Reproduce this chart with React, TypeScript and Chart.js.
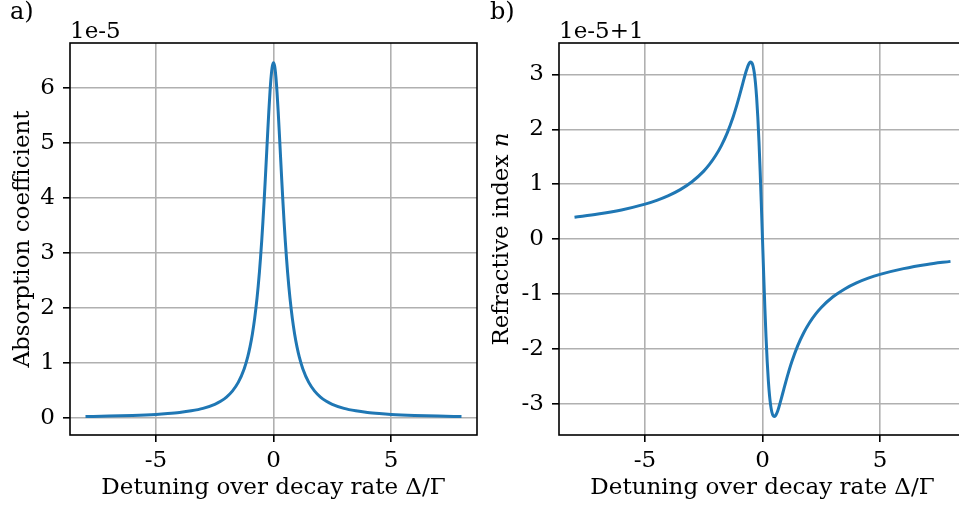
import React, { useEffect, useRef } from "react";
import { Chart, registerables } from "chart.js";

Chart.register(...registerables);

// ---- data ----
const detuning = [
  -8, -7, -6, -5, -4.5, -4, -3.5, -3, -2.5, -2.25, -2, -1.75, -1.5, -1.25, -1.1, -1, -0.9, -0.8, -0.7, -0.65,
  -0.6, -0.55, -0.5, -0.45, -0.4, -0.35, -0.3, -0.25, -0.2, -0.15, -0.1, -0.05, 0, 0.05, 0.1, 0.15, 0.2, 0.25,
  0.3, 0.35, 0.4, 0.45, 0.5, 0.55, 0.6, 0.65, 0.7, 0.8, 0.9, 1, 1.1, 1.25, 1.5, 1.75, 2, 2.25, 2.5, 3, 3.5, 4,
  4.5, 5, 6, 7, 8,
];
const absorption = [
  0.025, 0.033, 0.045, 0.064, 0.079, 0.099, 0.129, 0.174, 0.248, 0.304, 0.379, 0.487, 0.645, 0.89, 1.104, 1.29,
  1.521, 1.812, 2.179, 2.398, 2.643, 2.919, 3.225, 3.564, 3.933, 4.329, 4.743, 5.16, 5.56, 5.917, 6.202, 6.386,
  6.45, 6.386, 6.202, 5.917, 5.56, 5.16, 4.743, 4.329, 3.933, 3.564, 3.225, 2.919, 2.643, 2.398, 2.179, 1.812,
  1.521, 1.29, 1.104, 0.89, 0.645, 0.487, 0.379, 0.304, 0.248, 0.174, 0.129, 0.099, 0.079, 0.064, 0.045, 0.033,
  0.025,
];
const refraction = [
  0.402, 0.458, 0.534, 0.639, 0.708, 0.794, 0.903, 1.046, 1.24, 1.366, 1.518, 1.704, 1.935, 2.224, 2.43, 2.58,
  2.738, 2.899, 3.051, 3.117, 3.172, 3.21, 3.225, 3.207, 3.146, 3.03, 2.846, 2.58, 2.224, 1.775, 1.24, 0.639, 0,
  -0.639, -1.24, -1.775, -2.224, -2.58, -2.846, -3.03, -3.146, -3.207, -3.225, -3.21, -3.172, -3.117, -3.051,
  -2.899, -2.738, -2.58, -2.43, -2.224, -1.935, -1.704, -1.518, -1.366, -1.24, -1.046, -0.903, -0.794, -0.708,
  -0.639, -0.534, -0.458, -0.402,
];
const xTicks = [-5, 0, 5];
const absTicks = [0, 1, 2, 3, 4, 5, 6];
const refTicks = [-3, -2, -1, 0, 1, 2, 3];
const panelLabels = ["a)", "b)"];
const offsetTexts = ["1e-5", "1e-5+1"];
const xTitle = "Detuning over decay rate Δ/Γ";
const yTitleA = "Absorption coefficient";
const yTitleB = ["Refractive index ", "n"];

const FONT = "'DejaVu Serif', serif";
const FS = 23;
const LINE = "#1f77b4";
const GRID = "#b0b0b0";

type PanelProps = {
  left: number;
  width: number;
  yAxisWidth: number;
  padRight: number;
  values: number[];
  yTicks: number[];
  yMin: number;
  yMax: number;
  label: string;
  offsetText: string;
  yTitle?: string;
  yTitleParts?: string[];
};

function Panel(p: PanelProps) {
  const ref = useRef<HTMLCanvasElement | null>(null);
  useEffect(() => {
    const canvas = ref.current!;
    const fmt = (v: number) => (v < 0 ? "-" + Math.abs(v) : String(v));
    const boxPlugin = {
      id: "box",
      afterDraw(chart: any) {
        const { ctx, chartArea: a } = chart;
        ctx.save();
        ctx.strokeStyle = "#000";
        ctx.lineWidth = 1.6;
        ctx.strokeRect(a.left, a.top, a.right - a.left, a.bottom - a.top);
        ctx.fillStyle = "#000";
        ctx.font = `${FS}px ${FONT}`;
        ctx.textAlign = "left";
        ctx.textBaseline = "alphabetic";
        ctx.fillText(p.offsetText, a.left, a.top - 5);
        ctx.font = `${FS + 1}px ${FONT}`;
        ctx.fillText(p.label, 10, 19);
        if (p.yTitleParts) {
          ctx.translate(22, (a.top + a.bottom) / 2);
          ctx.rotate(-Math.PI / 2);
          ctx.textBaseline = "middle";
          const f1 = `${FS}px ${FONT}`;
          const f2 = `italic ${FS}px ${FONT}`;
          ctx.font = f1;
          const w1 = ctx.measureText(p.yTitleParts[0]).width;
          ctx.font = f2;
          const w2 = ctx.measureText(p.yTitleParts[1]).width;
          const start = -(w1 + w2) / 2;
          ctx.font = f1;
          ctx.fillText(p.yTitleParts[0], start, 0);
          ctx.font = f2;
          ctx.fillText(p.yTitleParts[1], start + w1, 0);
        }
        ctx.restore();
      },
    };
    const chart = new Chart(canvas, {
      type: "line",
      data: {
        datasets: [
          {
            data: detuning.map((x, i) => ({ x, y: p.values[i] })),
            borderColor: LINE,
            borderWidth: 3,
            pointRadius: 0,
            fill: false,
            cubicInterpolationMode: "monotone",
          },
        ],
      },
      options: {
        responsive: false,
        animation: false,
        devicePixelRatio: 1,
        layout: { padding: { left: 0, top: 43, right: p.padRight, bottom: 0 } },
        plugins: { legend: { display: false }, tooltip: { enabled: false } },
        scales: {
          x: {
            type: "linear",
            min: -8.66,
            max: 8.66,
            afterBuildTicks: (s: any) => {
              s.ticks = xTicks.map((v) => ({ value: v }));
            },
            afterFit: (s: any) => {
              s.height = 73;
            },
            grid: { color: GRID, lineWidth: 1.6, tickColor: "#000", tickWidth: 1.6, tickLength: 7 },
            border: { display: false },
            ticks: {
              color: "#000",
              font: { family: FONT, size: FS },
              padding: 5,
              maxRotation: 0,
              callback: (v: any) => fmt(Number(v)),
            },
            title: {
              display: true,
              text: xTitle,
              color: "#000",
              font: { family: FONT, size: FS },
              padding: { top: 0, bottom: 6 },
            },
          },
          y: {
            type: "linear",
            min: p.yMin,
            max: p.yMax,
            afterBuildTicks: (s: any) => {
              s.ticks = p.yTicks.map((v) => ({ value: v }));
            },
            afterFit: (s: any) => {
              s.width = p.yAxisWidth;
            },
            grid: { color: GRID, lineWidth: 1.6, tickColor: "#000", tickWidth: 1.6, tickLength: 7 },
            border: { display: false },
            ticks: {
              color: "#000",
              font: { family: FONT, size: FS },
              padding: 8,
              callback: (v: any) => fmt(Number(v)),
            },
            title: {
              display: !!p.yTitle,
              text: p.yTitle || "",
              color: "#000",
              font: { family: FONT, size: FS },
              padding: { top: 9, bottom: 0 },
            },
          },
        },
      },
      plugins: [boxPlugin],
    } as any);
    return () => chart.destroy();
  }, []);
  return (
    <canvas
      ref={ref}
      width={p.width}
      height={508}
      style={{ position: "absolute", left: p.left, top: 0, width: p.width, height: 508 }}
    />
  );
}

export default function App() {
  return (
    <div
      style={{
        position: "fixed",
        left: 0,
        top: 0,
        width: 959,
        height: 508,
        overflow: "hidden",
        background: "#fff",
      }}
    >
      <Panel
        left={0}
        width={480}
        yAxisWidth={70}
        padRight={3}
        values={absorption}
        yTicks={absTicks}
        yMin={-0.31}
        yMax={6.81}
        label={panelLabels[0]}
        offsetText={offsetTexts[0]}
        yTitle={yTitleA}
      />
      <Panel
        left={480}
        width={490}
        yAxisWidth={79}
        padRight={4}
        values={refraction}
        yTicks={refTicks}
        yMin={-3.56}
        yMax={3.57}
        label={panelLabels[1]}
        offsetText={offsetTexts[1]}
        yTitleParts={yTitleB}
      />
    </div>
  );
}
